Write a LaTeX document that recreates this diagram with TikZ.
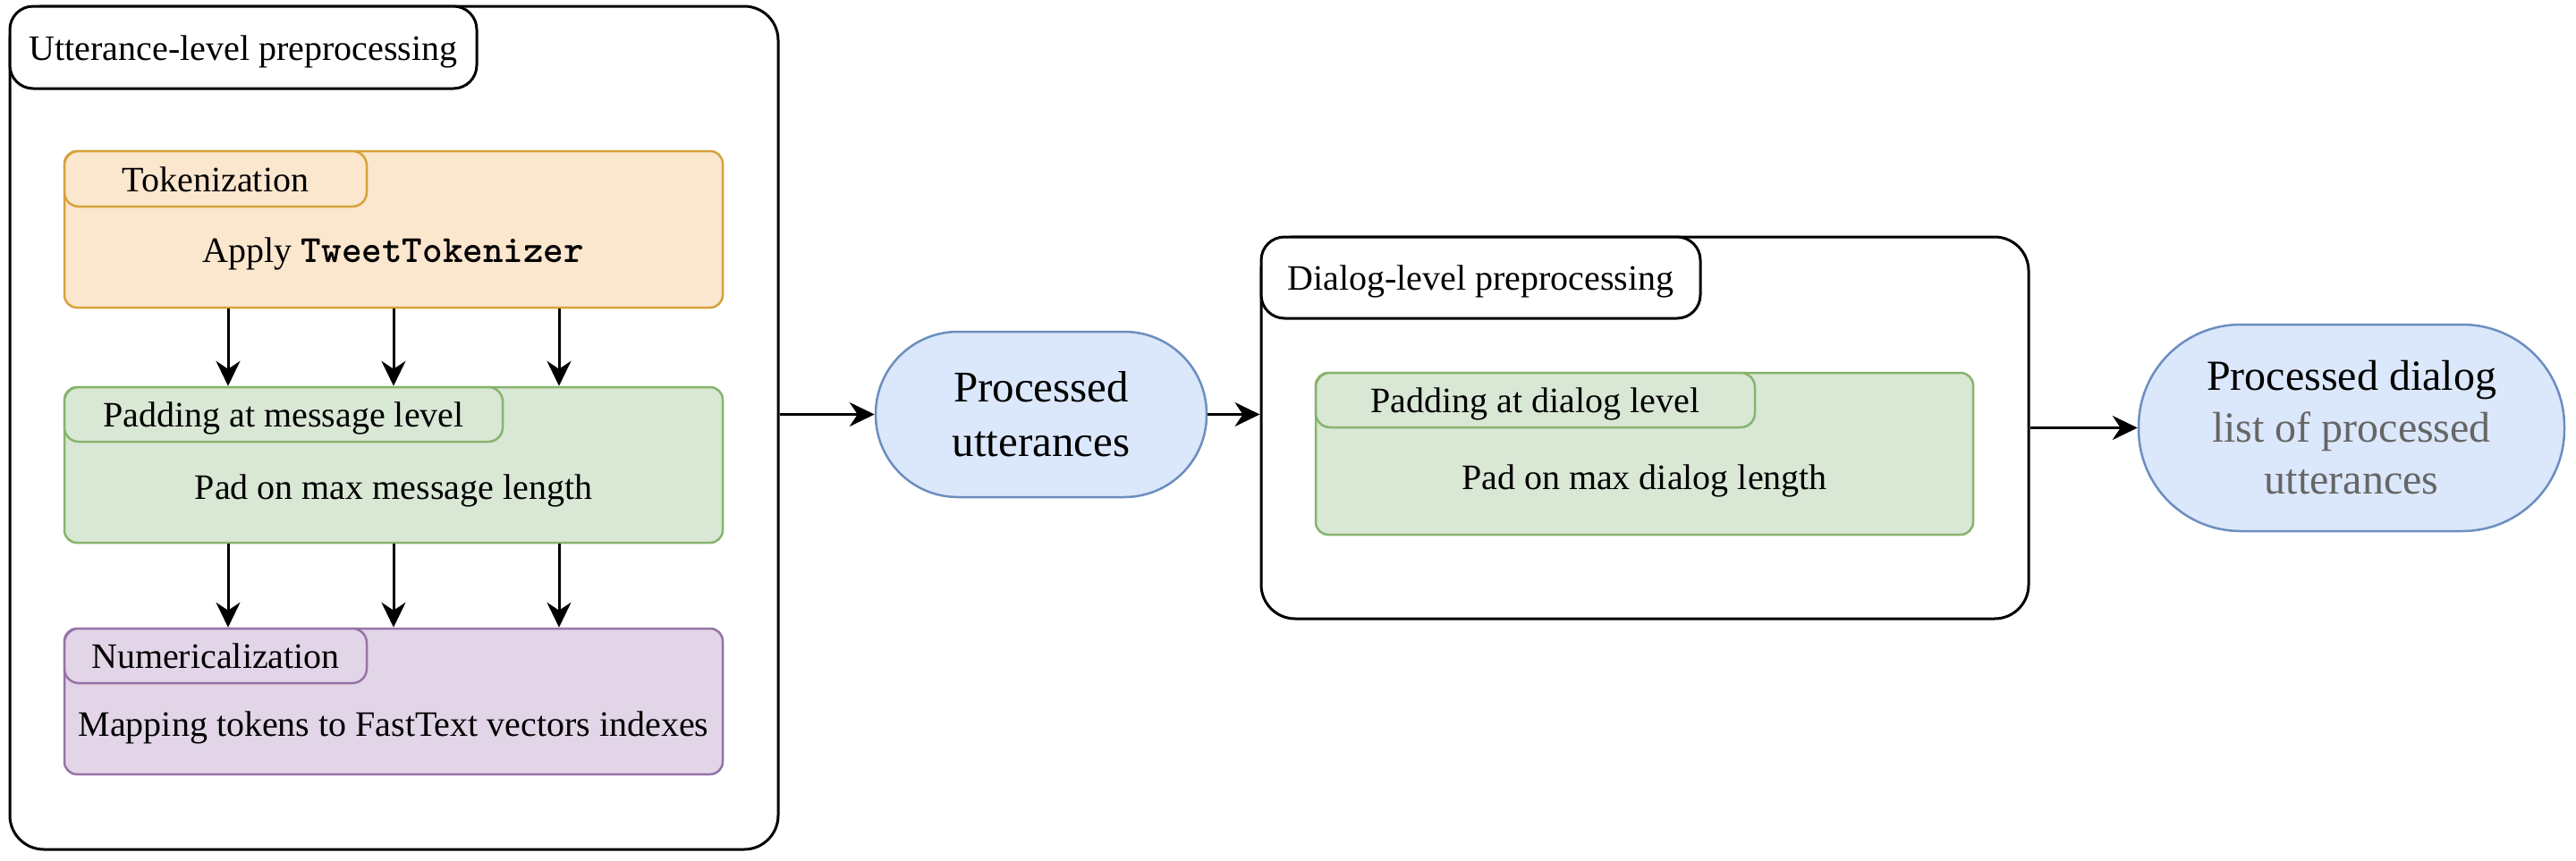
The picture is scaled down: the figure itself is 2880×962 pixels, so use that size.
\documentclass[tikz,border=0pt]{standalone}
\usepackage{fontspec}
\setmainfont{Liberation Serif}
\usetikzlibrary{arrows.meta}
\definecolor{orfill}{HTML}{FBE6CE}
\definecolor{ordraw}{HTML}{D6A23A}
\definecolor{grfill}{HTML}{D9E7D5}
\definecolor{grdraw}{HTML}{87B46C}
\definecolor{pufill}{HTML}{E1D5E7}
\definecolor{pudraw}{HTML}{9673A6}
\definecolor{blfill}{HTML}{DBE7FA}
\definecolor{bldraw}{HTML}{6C8EBF}
\definecolor{subgray}{HTML}{666666}
\tikzset{
  txt/.style={font=\fontsize{40}{48}\selectfont, inner sep=0pt},
  bigtxt/.style={font=\fontsize{49}{61}\selectfont, inner sep=0pt},
  container/.style={draw=black, fill=white, line width=3pt, rounded corners=38pt, inner sep=0pt},
  titletab/.style={draw=black, fill=white, line width=3pt, rounded corners=26pt, inner sep=0pt,
    anchor=north west, txt, text height=28pt, text depth=0pt},
  stepbox/.style={draw=#1draw, fill=#1fill, line width=2.5pt, rounded corners=14pt, inner sep=0pt},
  steptab/.style={draw=#1draw, fill=#1fill, line width=2.5pt, rounded corners=16pt, inner sep=0pt,
    anchor=north west, txt, text height=28pt, text depth=0pt},
  pill/.style={draw=bldraw, fill=blfill, line width=2.5pt, inner sep=0pt, align=center},
  arr/.style={line width=3pt, -{Stealth[length=28pt, width=27pt, inset=9pt]}},
}
\begin{document}
\begin{tikzpicture}[x=1pt, y=-1pt]
\useasboundingbox (0,0) rectangle (2880,962);

% ---- Utterance-level container
\node[container, minimum width=859pt, minimum height=943pt] (outer) at (440.5,478.5) {};
\node[titletab, minimum width=522pt, minimum height=92pt] (outertab) at (outer.north west) {Utterance-level preprocessing};

% Tokenization
\node[stepbox=or, minimum width=736pt, minimum height=175pt] (tok) at (440,256.5) {};
\node[steptab=or, minimum width=338pt, minimum height=62pt] (toktab) at (tok.north west) {Tokenization};
\node[txt, anchor=base] (toktxt) at (440,293) {Apply {\fontsize{43}{48}\selectfont\ttfamily\bfseries TweetTokenizer}};

% Padding at message level
\node[stepbox=gr, minimum width=736pt, minimum height=174pt] (pad) at (440,520) {};
\node[steptab=gr, minimum width=490pt, minimum height=61pt] (padtab) at (pad.north west) {Padding at message level};
\node[txt, anchor=base] (padtxt) at (440,558) {Pad on max message length};

% Numericalization
\node[stepbox=pu, minimum width=736pt, minimum height=163pt] (num) at (440,784.5) {};
\node[steptab=pu, minimum width=338pt, minimum height=61pt] (numtab) at (num.north west) {Numericalization};
\node[txt, anchor=base] (numtxt) at (440,823) {Mapping tokens to FastText vectors indexes};

\foreach \dx in {-185,0,185} {
  \draw[arr] ([xshift=\dx pt]tok.south) -- ([xshift=\dx pt]pad.north);
  \draw[arr] ([xshift=\dx pt]pad.south) -- ([xshift=\dx pt]num.north);
}

% ---- Processed utterances
\node[pill, bigtxt, rounded corners=92pt, minimum width=370pt, minimum height=185pt] (pu) at (1164,463.5) {Processed\\utterances};

% ---- Dialog-level container
\node[container, minimum width=858pt, minimum height=427pt] (dlg) at (1839,478.5) {};
\node[titletab, minimum width=491pt, minimum height=91pt] (dlgtab) at (dlg.north west) {Dialog-level preprocessing};
\node[stepbox=gr, minimum width=735pt, minimum height=181pt] (dpad) at (1838.5,507.5) {};
\node[steptab=gr, minimum width=491pt, minimum height=61pt] (dpadtab) at (dpad.north west) {Padding at dialog level};
\node[txt, anchor=base] (dpadtxt) at (1838.5,547) {Pad on max dialog length};

% ---- Processed dialog
\node[pill, font=\fontsize{48}{58}\selectfont, rounded corners=114pt, minimum width=476pt, minimum height=231pt] (pd) at (2629,478.5)
  {Processed dialog\\\textcolor{subgray}{list of processed}\\\textcolor{subgray}{utterances}};

% ---- connectors
\draw[arr] (outer.east |- pu.west) -- (pu.west);
\draw[arr] (pu.east) -- (pu.east -| dlg.west);
\draw[arr] (dlg.east) -- (pd.west);
\end{tikzpicture}
\end{document}
